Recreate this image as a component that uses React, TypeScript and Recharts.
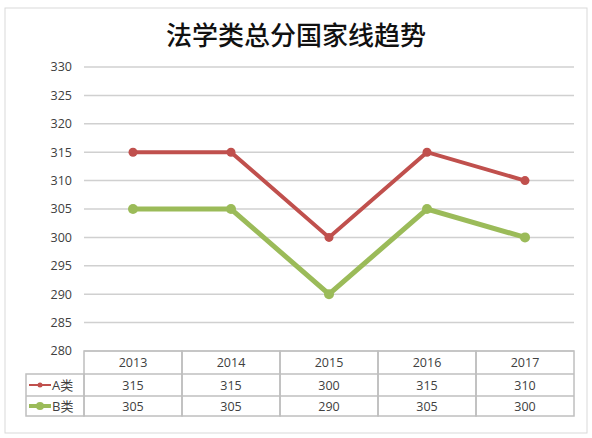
import React from 'react';
import { LineChart, Line, XAxis, YAxis, CartesianGrid } from 'recharts';

const years = ['2013', '2014', '2015', '2016', '2017'];
const seriesA = [315, 315, 300, 315, 310];
const seriesB = [305, 305, 290, 305, 300];
const yTicks = [280, 285, 290, 295, 300, 305, 310, 315, 320, 325, 330];
const seriesNames = ['A类', 'B类'];

const RED = '#C0504D';
const GREEN = '#9BBB59';
const TABLE_LINE = '#BFBFBF';
const TEXT = '#404040';

const data = years.map((y, i) => ({ year: y, A: seriesA[i], B: seriesB[i] }));

const COL_HALF = 49;
const TOP = 351;
const ROW1 = 374;
const ROW2 = 396;
const BOTTOM = 416;
const LEFT = 26;

const TableTick = (props: any) => {
  const { x, payload, index } = props;
  const i = years.indexOf(payload.value);
  const x0 = x - COL_HALF;
  const x1 = x + COL_HALF;
  const font = { fontFamily: '"Open Sans", "Noto Sans CJK SC", sans-serif', fontSize: 12.5, fill: TEXT };
  return (
    <g>
      <rect x={x0} y={TOP} width={x1 - x0} height={BOTTOM - TOP} fill="none" stroke={TABLE_LINE} strokeWidth={1.5} />
      <line x1={x0} x2={x1} y1={ROW1} y2={ROW1} stroke={TABLE_LINE} strokeWidth={1.5} />
      <line x1={x0} x2={x1} y1={ROW2} y2={ROW2} stroke={TABLE_LINE} strokeWidth={1.5} />
      <text x={x} y={(TOP + ROW1) / 2 + 4.5} textAnchor="middle" {...font}>{payload.value}</text>
      <text x={x} y={(ROW1 + ROW2) / 2 + 4.5} textAnchor="middle" {...font}>{seriesA[i]}</text>
      <text x={x} y={(ROW2 + BOTTOM) / 2 + 4.5} textAnchor="middle" {...font}>{seriesB[i]}</text>
      {index === 0 && (
        <g>
          <rect x={LEFT} y={ROW1} width={x0 - LEFT} height={BOTTOM - ROW1} fill="none" stroke={TABLE_LINE} strokeWidth={1.5} />
          <line x1={LEFT} x2={x0} y1={ROW2} y2={ROW2} stroke={TABLE_LINE} strokeWidth={1.5} />
          <line x1={29} x2={51} y1={(ROW1 + ROW2) / 2} y2={(ROW1 + ROW2) / 2} stroke={RED} strokeWidth={2} />
          <circle cx={40} cy={(ROW1 + ROW2) / 2} r={2.5} fill={RED} />
          <line x1={29} x2={51} y1={(ROW2 + BOTTOM) / 2} y2={(ROW2 + BOTTOM) / 2} stroke={GREEN} strokeWidth={4} />
          <circle cx={40} cy={(ROW2 + BOTTOM) / 2} r={4} fill={GREEN} />
          <text x={52} y={(ROW1 + ROW2) / 2 + 5} {...font} fontSize={13}>{seriesNames[0]}</text>
          <text x={52} y={(ROW2 + BOTTOM) / 2 + 5} {...font} fontSize={13}>{seriesNames[1]}</text>
        </g>
      )}
    </g>
  );
};

export default function App() {
  return (
    <div style={{ position: 'absolute', left: 0, top: 0, width: 592, height: 438, background: '#fff' }}>
      <svg width={592} height={438} style={{ position: 'absolute', left: 0, top: 0 }}>
        <rect x={5} y={8} width={582} height={425} fill="#fff" stroke="#D9D9D9" strokeWidth={1} />
        <text x={296} y={45} textAnchor="middle" fontFamily='"Noto Sans CJK SC", sans-serif' fontSize={26} fontWeight={500} fill="#111">
          法学类总分国家线趋势
        </text>
      </svg>
      <div style={{ position: 'absolute', left: 0, top: 0 }}>
        <LineChart width={592} height={438} data={data} margin={{ top: 67, right: 18, bottom: 27, left: 0 }}>
          <CartesianGrid vertical={false} stroke="#D0D0D0" strokeWidth={1.5} />
          <XAxis
            dataKey="year"
            padding={{ left: COL_HALF, right: COL_HALF }}
            axisLine={false}
            tickLine={false}
            tick={<TableTick />}
            interval={0}
            height={60}
          />
          <YAxis
            domain={[280, 330]}
            ticks={yTicks}
            axisLine={false}
            tickLine={false}
            width={84}
            tickMargin={6}
            tick={{ fontFamily: '"Open Sans", sans-serif', fontSize: 12.5, fill: TEXT }}
            interval={0}
          />
          <Line dataKey="A" stroke={RED} strokeWidth={4} dot={{ r: 4.5, fill: RED, stroke: RED, strokeWidth: 0 }} isAnimationActive={false} />
          <Line dataKey="B" stroke={GREEN} strokeWidth={5} dot={{ r: 5, fill: GREEN, stroke: GREEN, strokeWidth: 0 }} isAnimationActive={false} />
        </LineChart>
      </div>
    </div>
  );
}
